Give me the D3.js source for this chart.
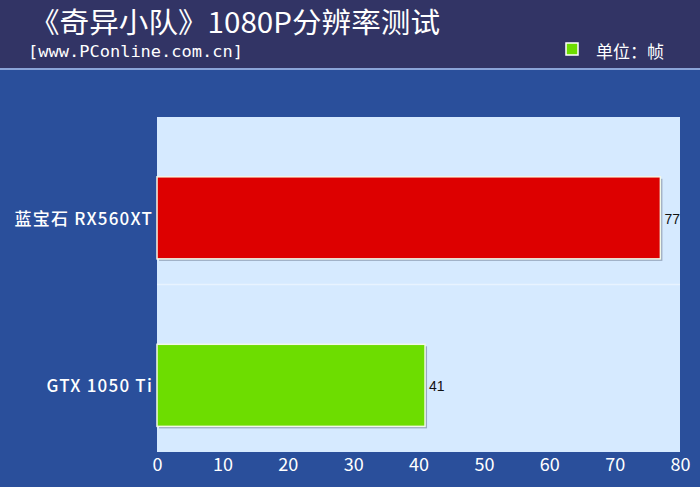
<!DOCTYPE html>
<html><head><meta charset="utf-8">
<script src="https://cdn.jsdelivr.net/npm/d3@7/dist/d3.min.js"></script>
<style>body{margin:0;}svg{display:block;}</style></head>
<body><svg id="c" width="700" height="487"></svg>
<script>
const categories = ["蓝宝石 RX560XT", "GTX 1050 Ti"];
const values = [77, 41];
const colors = ["#dd0000", "#6ddd00"];
const ticks = [0,10,20,30,40,50,60,70,80];
const title = "《奇异小队》1080P分辨率测试";
const subtitle = "[www.PConline.com.cn]";
const unit = "单位：帧";

const svg = d3.select("#c");
svg.append("rect").attr("width",700).attr("height",487).attr("fill","#2a4f9b");
svg.append("rect").attr("width",700).attr("height",68).attr("fill","#323465");
svg.append("rect").attr("y",68).attr("width",700).attr("height",2).attr("fill","#8aa4d8");
svg.append("text").attr("x",30).attr("y",33).attr("fill","#fff").attr("font-size",28)
  .attr("font-family","Noto Sans CJK SC").attr("textLength",410).attr("lengthAdjust","spacingAndGlyphs").text(title);
svg.append("text").attr("x",28).attr("y",57).attr("fill","#fff").attr("font-size",16)
  .attr("font-family","DejaVu Sans Mono").attr("textLength",215).attr("lengthAdjust","spacingAndGlyphs").text(subtitle);
svg.append("rect").attr("x",566).attr("y",43).attr("width",12).attr("height",12).attr("fill","#6ddd00").attr("stroke","#fff").attr("stroke-width",1.5);
svg.append("text").attr("x",596).attr("y",58).attr("fill","#fff").attr("font-size",17)
  .attr("font-family","Noto Sans CJK SC").text(unit);

const L=157,R=680,T=117,B=452;
const x = d3.scaleLinear().domain([0,80]).range([L,R]);
const y = d3.scaleBand().domain(categories).range([T,B]);
svg.append("rect").attr("x",L).attr("y",T).attr("width",R-L).attr("height",B-T).attr("fill","#d6eaff");
svg.append("line").attr("x1",L).attr("x2",R).attr("y1",y(categories[1])).attr("y2",y(categories[1])).attr("stroke","#e8f3ff").attr("stroke-width",1.5);
const bh = y.bandwidth()*0.49;
categories.forEach((c,i)=>{
  const top = y(c)+y.bandwidth()*0.357, cy = top+bh/2;
  svg.append("rect").attr("x",L+2).attr("y",top+2).attr("width",x(values[i])-L).attr("height",bh).attr("fill","#9aaac0");
  svg.append("rect").attr("x",L).attr("y",top).attr("width",x(values[i])-L).attr("height",bh)
    .attr("fill",colors[i]).attr("stroke","#f2f8e8").attr("stroke-width",1.5);
  svg.append("text").attr("x",x(values[i])+4).attr("y",cy+6).attr("font-size",14)
    .attr("font-family","Liberation Sans").attr("fill","#111").text(values[i]);
  svg.append("text").attr("x",L-4).attr("y",cy+7).attr("text-anchor","end").attr("font-size",17)
    .attr("font-family","Noto Sans CJK SC").attr("font-weight","500").attr("fill","#fff").attr("letter-spacing",1.2).text(c);
});
const ax = svg.append("g").attr("transform",`translate(0,${B})`)
  .call(d3.axisBottom(x).tickValues(ticks).tickSize(0).tickPadding(5));
ax.select(".domain").remove();
ax.selectAll("text").attr("fill","#fff").attr("font-size",18).attr("font-family","Noto Sans CJK SC").attr("dy","0.75em");
</script></body></html>
